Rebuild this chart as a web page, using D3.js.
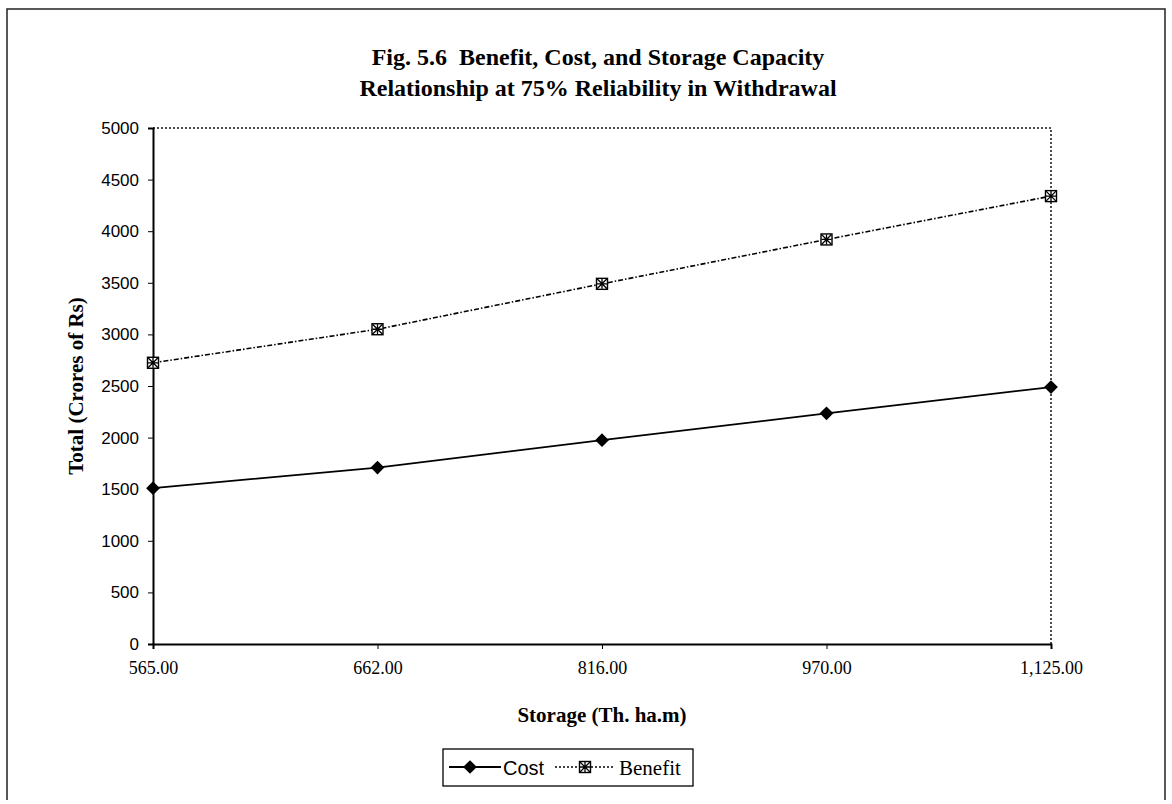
<script src="https://d3js.org/d3.v7.min.js"></script>
<style>
  body { margin: 0; background: #fff; }
</style>
<svg id="vis"></svg>
<script>
// Data
var storage = ["565.00", "662.00", "816.00", "970.00", "1,125.00"];
var cost = [1510, 1710, 1975, 2235, 2490];
var benefit = [2725, 3050, 3490, 3920, 4340];
var yTicks = [0, 500, 1000, 1500, 2000, 2500, 3000, 3500, 4000, 4500, 5000];

var W = 1172, H = 804;
var margin = {left: 153, right: 1051, top: 128, bottom: 644};

var svg = d3.select("#vis").attr("width", W).attr("height", H);

// scan frame around the figure
svg.append("path")
  .attr("d", "M7,800 L7,9 L1165,9 L1165,800")
  .attr("fill", "none").attr("stroke", "#222").attr("stroke-width", 1.5);

var x = d3.scalePoint().domain(storage).range([margin.left, margin.right]);
var y = d3.scaleLinear().domain([0, 5000]).range([margin.bottom, margin.top]);

// title
var title = svg.append("text")
  .attr("text-anchor", "middle")
  .style("white-space", "pre")
  .style("font-family", "'Liberation Serif', serif")
  .style("font-weight", "bold")
  .style("font-size", "24px");
title.append("tspan").attr("x", 598).attr("y", 65).text("Fig. 5.6  Benefit, Cost, and Storage Capacity");
title.append("tspan").attr("x", 598).attr("y", 96).text("Relationship at 75% Reliability in Withdrawal");

// dotted top and right border of the plot area
svg.append("path")
  .attr("d", "M" + margin.left + "," + margin.top + " L" + margin.right + "," + margin.top + " L" + margin.right + "," + margin.bottom)
  .attr("fill", "none").attr("stroke", "#111").attr("stroke-width", 1.5)
  .attr("stroke-dasharray", "2,2");

// y axis
var yAxis = svg.append("g")
  .attr("transform", "translate(" + margin.left + ",0)")
  .call(d3.axisLeft(y).tickValues(yTicks).tickFormat(d3.format("d")).tickSize(5).tickPadding(9));
yAxis.selectAll("text")
  .style("font-family", "'Liberation Sans', sans-serif")
  .style("font-size", "17px").attr("fill", "#000");
yAxis.select(".domain").attr("stroke", "#000").attr("stroke-width", 2);

// x axis
var xAxis = svg.append("g")
  .attr("transform", "translate(0," + margin.bottom + ")")
  .call(d3.axisBottom(x).tickSize(5).tickPadding(12));
xAxis.selectAll("text")
  .style("font-family", "'Liberation Serif', serif")
  .style("font-size", "18px").attr("fill", "#000");
xAxis.select(".domain").attr("stroke", "#000").attr("stroke-width", 2);

// axis titles
svg.append("text")
  .attr("transform", "translate(83," + ((margin.top + margin.bottom) / 2) + ") rotate(-90)")
  .attr("text-anchor", "middle")
  .style("font-family", "'Liberation Serif', serif")
  .style("font-weight", "bold").style("font-size", "21px")
  .text("Total (Crores of Rs)");

svg.append("text")
  .attr("x", (margin.left + margin.right) / 2).attr("y", 722)
  .attr("text-anchor", "middle")
  .style("font-family", "'Liberation Serif', serif")
  .style("font-weight", "bold").style("font-size", "21px")
  .text("Storage (Th. ha.m)");

// lines
var line = d3.line().x(function(d, i) { return x(storage[i]); }).y(function(d) { return y(d); });

svg.append("path").datum(cost)
  .attr("d", line).attr("fill", "none")
  .attr("stroke", "#000").attr("stroke-width", 1.8);

svg.append("path").datum(benefit)
  .attr("d", line).attr("fill", "none")
  .attr("stroke", "#000").attr("stroke-width", 1.6)
  .attr("stroke-dasharray", "5,2,1.5,2");

// markers
var diamond = d3.symbol().type(d3.symbolDiamond2).size(120);

svg.append("g").selectAll("path")
  .data(cost).enter().append("path")
  .attr("transform", function(d, i) { return "translate(" + x(storage[i]) + "," + y(d) + ")"; })
  .attr("d", diamond).attr("fill", "#000");

function hatchSquare(g) {
  g.append("rect").attr("x", -5.5).attr("y", -5.5).attr("width", 11).attr("height", 11)
    .attr("fill", "#fff").attr("stroke", "#000").attr("stroke-width", 1.4);
  g.append("path").attr("d", "M-5,-5L5,5M5,-5L-5,5M0,-5L0,5M-5,0L5,0")
    .attr("stroke", "#000").attr("stroke-width", 1.3);
}

svg.append("g").selectAll("g")
  .data(benefit).enter().append("g")
  .attr("transform", function(d, i) { return "translate(" + x(storage[i]) + "," + y(d) + ")"; })
  .each(function() { hatchSquare(d3.select(this)); });

// legend
var lg = svg.append("g").attr("transform", "translate(443,749)");
lg.append("rect").attr("width", 250).attr("height", 37)
  .attr("fill", "#fff").attr("stroke", "#000").attr("stroke-width", 1.3);
lg.append("line").attr("x1", 6).attr("x2", 58).attr("y1", 18).attr("y2", 18)
  .attr("stroke", "#000").attr("stroke-width", 1.8);
lg.append("path").attr("transform", "translate(27,18)").attr("d", diamond).attr("fill", "#000");
lg.append("text").attr("x", 60).attr("y", 26)
  .style("font-family", "'Liberation Sans', sans-serif").style("font-size", "20px")
  .text("Cost");
lg.append("line").attr("x1", 112).attr("x2", 172).attr("y1", 18).attr("y2", 18)
  .attr("stroke", "#000").attr("stroke-width", 1.6).attr("stroke-dasharray", "2,2");
var lm = lg.append("g").attr("transform", "translate(142,18)");
hatchSquare(lm);
lg.append("text").attr("x", 176).attr("y", 26)
  .style("font-family", "'Liberation Serif', serif").style("font-size", "21px")
  .text("Benefit");
</script>
